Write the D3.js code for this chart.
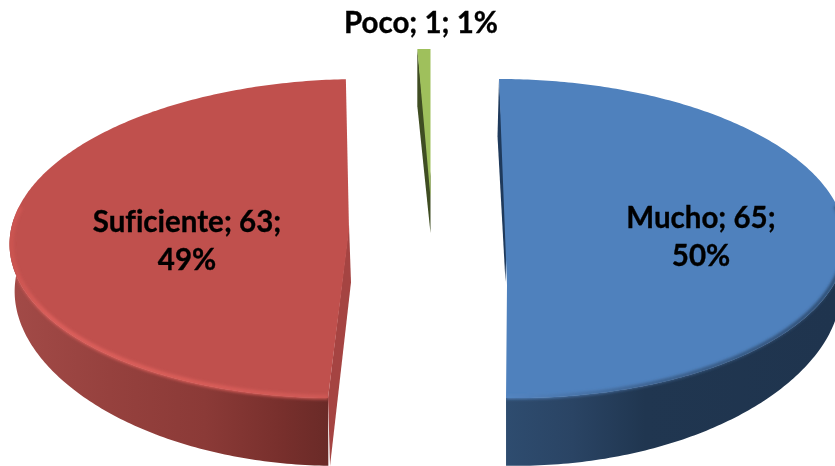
<!DOCTYPE html>
<html>
<head>
<meta charset="utf-8">
<script src="https://cdnjs.cloudflare.com/ajax/libs/d3/7.8.5/d3.min.js"></script>
<style>
html,body{margin:0;padding:0;background:#fff;overflow:hidden}
svg{display:block}
text{font-family:Lato,"Open Sans",sans-serif;font-weight:700;fill:#000;stroke:#000;stroke-width:0.35;text-anchor:middle;font-variant-ligatures:none}
</style>
</head>
<body>
<svg id="chart" width="835" height="466"></svg>
<script>
const categories = ["Mucho", "Suficiente", "Poco"];
const values = [65, 63, 1];
const percents = ["50%", "49%", "1%"];
const topColors = ["#4f81bd", "#c0504d", "#9fc05c"];
const sideColors = ["#1f3a5c", "#a54442", "#3f4d22"];

const W = 835, H = 466;
const svg = d3.select("#chart");

// 3D projection settings for each exploded slice
const layout = [
  {cx: 507, cy: 225, k: 1,    shear: -8, hinge: 60, wallDx: -1.5},
  {cx: 349, cy: 225, k: 1,    shear: 12, hinge: 5,  wallDx: 2},
  {cx: 430.5, cy: 176, k: 0.87, shear: 0, hinge: 22, wallDx: 0}
];
const rx = 337, ky = 158.4, persp = 0.085, depth = 62, lowerShrink = 0.985;

function project(i, theta, lift, radius) {
  const l = layout[i], r = radius === undefined ? 1 : radius;
  const c = Math.cos(theta);
  const s = 1 / (1 + persp * c);
  return [
    l.cx + rx * l.k * r * Math.sin(theta) * s + l.shear * r * c,
    l.cy - ky * l.k * r * c * s + lift * depth * s * (0.75 + 0.25 * c * c)
  ];
}
function sample(a0, a1, n) { return d3.range(n + 1).map(j => a0 + (a1 - a0) * j / n); }
function shrink(i, p) { return [layout[i].cx + (p[0] - layout[i].cx) * lowerShrink, p[1]]; }

const pie = d3.pie().sort(null).value(d => d);
const arcs = pie(values);
const line = d3.line();

const defs = svg.append("defs");
defs.append("filter").attr("id", "soft").attr("x", "-10%").attr("y", "-10%").attr("width", "120%").attr("height", "120%")
  .append("feGaussianBlur").attr("stdDeviation", 1.4);
defs.append("filter").attr("id", "softText").append("feGaussianBlur").attr("stdDeviation", 0.3);

function gradient(id, x1, x2, stops) {
  const g = defs.append("linearGradient").attr("id", id)
    .attr("gradientUnits", "userSpaceOnUse")
    .attr("x1", x1).attr("x2", x2).attr("y1", 0).attr("y2", 0);
  stops.forEach(s => g.append("stop").attr("offset", s[0]).attr("stop-color", s[1]));
}
gradient("wall0", 507, 835, [[0, "#2e4c6f"], [0.2, "#2a4464"], [0.42, "#203650"], [1, "#1f344e"]]);
gradient("wall1", 14, 332, [[0, "#a24a47"], [0.3, "#96413e"], [0.6, "#8b3a37"], [0.85, "#772f2c"], [1, "#692a27"]]);
gradient("rim0", 507, 835, [[0, "#5586c2"], [0.2, "#4873a8"], [0.45, "#3a5d88"], [1, "#2b486b"]]);
gradient("rim1", 10, 330, [[0, "#cb5450"], [0.12, "#dc5f5b"], [0.6, "#d95d59"], [1, "#cf5955"]]);

arcs.forEach((d, i) => {
  const g = svg.append("g");
  const a0 = d.startAngle, a1 = d.endAngle, l = layout[i];
  const apex = project(i, 0, 0, 0);
  const apexLow = project(i, 0, 1, 0);
  apexLow[0] += l.wallDx;

  // flat wall of the cut, seen through the gap
  const p0 = project(i, a0, 0), p0low = project(i, a0, 1);
  p0low[0] += l.wallDx;
  g.append("path").attr("d", line([apex, apexLow, p0low, p0]) + "Z").attr("fill", sideColors[i]);

  // outer curved wall
  let wallPath = null;
  if (i < 2) {
    const front = sample(a0, a1, 240).filter(t => Math.cos(t) < 0.05);
    const upper = front.map(t => project(i, t, 0));
    const lower = front.map(t => shrink(i, project(i, t, 1))).reverse();
    wallPath = line(upper.concat(lower)) + "Z";
    g.append("path").attr("d", wallPath).attr("fill", "url(#wall" + i + ")");
  }

  // top face
  const hinge = [apex[0], apex[1] + l.hinge];
  const face = [hinge].concat(sample(a0, a1, 240).map(t => project(i, t, 0)));
  const facePath = line(face) + "Z";
  g.append("path").attr("d", facePath).attr("fill", topColors[i]);

  // soft bevel along the front rim of the top face, kept inside the slice
  if (i < 2) {
    const clip = defs.append("clipPath").attr("id", "clip" + i);
    clip.append("path").attr("d", facePath);
    clip.append("path").attr("d", wallPath);
    const rim = sample(a0, a1, 240).filter(t => Math.cos(t) < 0.12);
    g.append("g").attr("clip-path", "url(#clip" + i + ")")
      .append("path")
      .attr("d", line(rim.map(t => project(i, t, 0, 0.995))))
      .attr("fill", "none").attr("stroke", "url(#rim" + i + ")")
      .attr("stroke-width", i === 1 ? 4.5 : 3.5).attr("filter", "url(#soft)");
  }
});

// data labels
const labelLines = [
  [categories[0] + "; " + values[0] + ";", percents[0]],
  [categories[1] + "; " + values[1] + ";", percents[1]],
  [categories[2] + "; " + values[2] + "; " + percents[2]]
];
const labelPos = [[701, 228, 38], [187, 232, 38], [421, 33, 0]];
labelLines.forEach((ls, i) => {
  ls.forEach((s, j) => {
    svg.append("text")
      .attr("x", labelPos[i][0])
      .attr("y", labelPos[i][1] + j * labelPos[i][2])
      .attr("font-size", 29.5)
      .attr("filter", "url(#softText)")
      .text(s);
  });
});
</script>
</body>
</html>
